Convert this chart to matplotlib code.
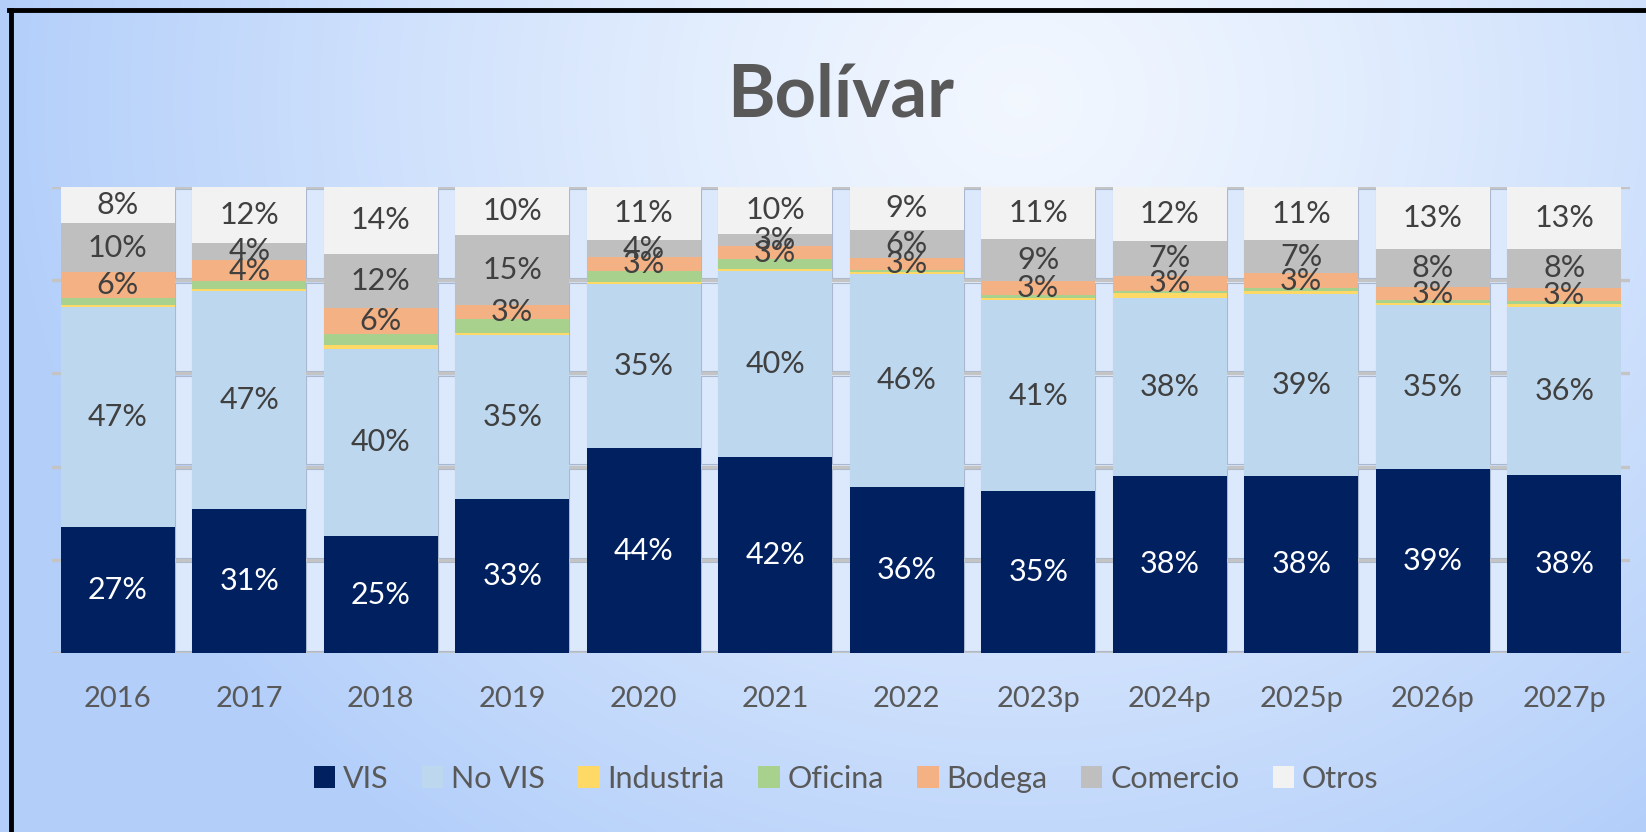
import numpy as np
import matplotlib
matplotlib.use("Agg")
import matplotlib.pyplot as plt
from matplotlib.patches import Rectangle
from matplotlib.lines import Line2D

plt.rcParams['font.family'] = ['Lato', 'DejaVu Sans']

# share of licensed area by destination (%), Bolívar
years = ['2016', '2017', '2018', '2019', '2020', '2021', '2022',
         '2023p', '2024p', '2025p', '2026p', '2027p']
vis       = [27.0, 30.9, 25.1, 33.1, 44.0, 42.0, 35.7, 34.8, 38.1, 38.1, 39.4, 38.3]
no_vis    = [47.2, 46.9, 40.2, 35.1, 35.2, 40.0, 45.6, 40.9, 38.2, 38.9, 35.2, 36.0]
industria = [0.5, 0.4, 0.8, 0.5, 0.4, 0.5, 0.4, 0.6, 0.9, 0.6, 0.6, 0.6]
oficina   = [1.5, 1.7, 2.3, 2.9, 2.4, 2.0, 0.5, 0.6, 0.6, 0.7, 0.6, 0.6]
bodega    = [5.6, 4.4, 5.6, 3.2, 2.9, 2.9, 2.6, 3.0, 3.2, 3.2, 2.7, 2.9]
comercio  = [10.4, 3.8, 11.7, 15.0, 3.8, 2.6, 6.1, 8.9, 7.4, 7.1, 8.2, 8.3]
otros     = [7.8, 11.9, 14.3, 10.2, 11.3, 10.0, 9.1, 11.2, 11.6, 11.4, 13.3, 13.3]

series = [
    ('VIS', vis, '#002060', True, 'white'),
    ('No VIS', no_vis, '#BDD7EE', True, '#404040'),
    ('Industria', industria, '#FFD966', False, None),
    ('Oficina', oficina, '#A9D18E', False, None),
    ('Bodega', bodega, '#F4B183', True, '#404040'),
    ('Comercio', comercio, '#BFBFBF', True, '#404040'),
    ('Otros', otros, '#F2F2F2', True, '#404040'),
]

fig = plt.figure(figsize=(16.46, 8.32), dpi=100)

# gradient background
bg = fig.add_axes([0, 0, 1, 1], zorder=-10)
yy, xx = np.mgrid[0:1:300j, 0:1:600j]
d = np.sqrt(((xx - 0.62) * 1.6) ** 2 + ((yy - 0.12) * 0.9) ** 2)
t = np.clip(d / 1.0, 0, 1) ** 1.2
c_in = np.array([0.95, 0.97, 1.0])
c_out = np.array([0.70, 0.81, 0.98])
img = c_in[None, None, :] * (1 - t[..., None]) + c_out[None, None, :] * t[..., None]
bg.imshow(img, aspect='auto', extent=[0, 1, 0, 1], origin='upper')
bg.set_xlim(0, 1)
bg.set_ylim(0, 1)
bg.axis('off')
# frame (only top and left visible)
bg.add_line(Line2D([0.0065, 0.0065], [0, 0.988], color='black', lw=3.5))
bg.add_line(Line2D([0.0055, 1], [0.988, 0.988], color='black', lw=3.5))

ax = fig.add_axes([0.0316, 0.2151, 0.9587, 0.560])
ax.set_facecolor('none')
x = np.arange(len(years))
w = 0.867

# wall pieces between the columns
for i in range(len(years) - 1):
    for k in range(5):
        ax.add_patch(Rectangle((i + w / 2, 20 * k + 0.5), 1 - w, 19.0,
                               facecolor='#DCE9FD', edgecolor='#A9B8CE',
                               lw=0.8, zorder=0.5))

for gy in range(0, 101, 20):
    ax.axhline(gy, color='#C4C4C4', lw=2.4, zorder=0.6)

bottom = np.zeros(len(years))
handles = []
for name, vals, color, show, tcolor in series:
    vals = np.array(vals)
    bars = ax.bar(x, vals, w, bottom=bottom, color=color, label=name,
                  zorder=2, linewidth=0)
    if show:
        ax.bar_label(bars, labels=[f'{v:.0f}%' for v in vals], label_type='center',
                     color=tcolor, fontsize=22)
    bottom += vals
    handles.append(bars)

ax.set_xlim(-0.5, len(years) - 0.5)
ax.set_ylim(0, 100)
ax.set_xticks(x)
ax.set_xticklabels(years, fontsize=21, color='#595959')
ax.tick_params(axis='x', length=0, pad=24)
ax.set_yticks([])
for s in ax.spines.values():
    s.set_visible(False)

fig.text(0.511, 0.885, 'Bolívar', ha='center', va='center', fontsize=52,
         fontweight='bold', color='#595959')

leg = fig.legend(handles=handles, loc='center', bbox_to_anchor=(0.514, 0.064),
                 ncol=7, frameon=False, fontsize=22, handlelength=0.7,
                 handleheight=0.7, handletextpad=0.25, columnspacing=1.1)
for t_ in leg.get_texts():
    t_.set_color('#595959')

fig.savefig('out.png', dpi=100)
